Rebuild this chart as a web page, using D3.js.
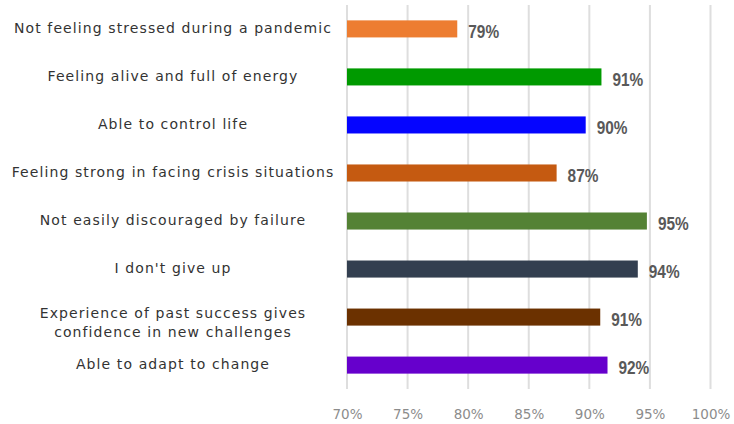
<!DOCTYPE html>
<html>
<head>
<meta charset="utf-8">
<script src="https://cdn.jsdelivr.net/npm/d3@7"></script>
<style>
html,body{margin:0;padding:0;background:#fff;}
svg{display:block;}
</style>
</head>
<body>
<svg id="chart" width="734" height="424"></svg>
<script>
const categories = [
  ["Not feeling stressed during a pandemic"],
  ["Feeling alive and full of energy"],
  ["Able to control life"],
  ["Feeling strong in facing crisis situations"],
  ["Not easily discouraged by failure"],
  ["I don't give up"],
  ["Experience of past success gives", "confidence in new challenges"],
  ["Able to adapt to change"]
];
const values = [79.1, 91.0, 89.7, 87.3, 94.75, 94.0, 90.9, 91.5];
const valueLabels = ["79%", "91%", "90%", "87%", "95%", "94%", "91%", "92%"];
const colors = ["#ED7D31", "#009A00", "#0505FF", "#C55A11", "#548235", "#333F50", "#6B3100", "#6600CC"];
const tickValues = [70, 75, 80, 85, 90, 95, 100];

const svg = d3.select("#chart");
const x = d3.scaleLinear().domain([70, 100]).range([347, 710.5]);
const y = d3.scaleBand().domain(d3.range(categories.length)).range([5, 389]).paddingInner(0.645).paddingOuter(0.32);

// gridlines
svg.append("g").selectAll("line").data(tickValues).join("line")
  .attr("x1", d => x(d)).attr("x2", d => x(d))
  .attr("y1", 5).attr("y2", 389)
  .attr("stroke", "#dedede").attr("stroke-width", 2);

// x axis labels
const xAxis = d3.axisBottom(x).tickValues(tickValues).tickSize(0).tickPadding(0).tickFormat(d => d + "%");
const gx = svg.append("g").attr("transform", "translate(0,409)").call(xAxis);
gx.select(".domain").remove();
gx.selectAll("text").attr("fill", "#8c8c8c").attr("font-family", "DejaVu Sans, Verdana, sans-serif")
  .attr("font-size", "13.5px").attr("dy", "0.35em").attr("y", 5);

// bars
svg.append("g").selectAll("rect").data(values).join("rect")
  .attr("x", x(70))
  .attr("y", (d, i) => y(i))
  .attr("width", d => x(d) - x(70))
  .attr("height", y.bandwidth())
  .attr("fill", (d, i) => colors[i]);

// value labels
svg.append("g").selectAll("text").data(values).join("text")
  .attr("transform", (d, i) => `translate(${x(d) + 11},${y(i) + y.bandwidth() / 2 + 2.5}) scale(0.88,1)`)
  .attr("dy", "0.36em")
  .attr("font-family", "Liberation Sans, Arial, sans-serif")
  .attr("font-weight", "bold")
  .attr("font-size", "17.5px")
  .attr("fill", "#595959")
  .text((d, i) => valueLabels[i]);

// category labels
const yAxis = d3.axisLeft(y).tickSize(0).tickFormat(() => "");
const gy = svg.append("g").attr("transform", "translate(347,0)").call(yAxis);
gy.select(".domain").remove();
const cl = svg.append("g").selectAll("text").data(categories).join("text")
  .attr("x", 173)
  .attr("y", (d, i) => y(i) + y.bandwidth() / 2 + (d.length > 1 ? -4 : -1))
  .attr("text-anchor", "middle")
  .attr("font-family", "DejaVu Sans, Verdana, sans-serif")
  .attr("font-size", "14px")
  .attr("letter-spacing", "1.1px")
  .attr("fill", "#333");
cl.each(function(d) {
  const t = d3.select(this);
  d.forEach((line, j) => {
    t.append("tspan").attr("x", 173).attr("dy", j === 0 ? "0.35em" : "19px").text(line);
  });
});
</script>
</body>
</html>
